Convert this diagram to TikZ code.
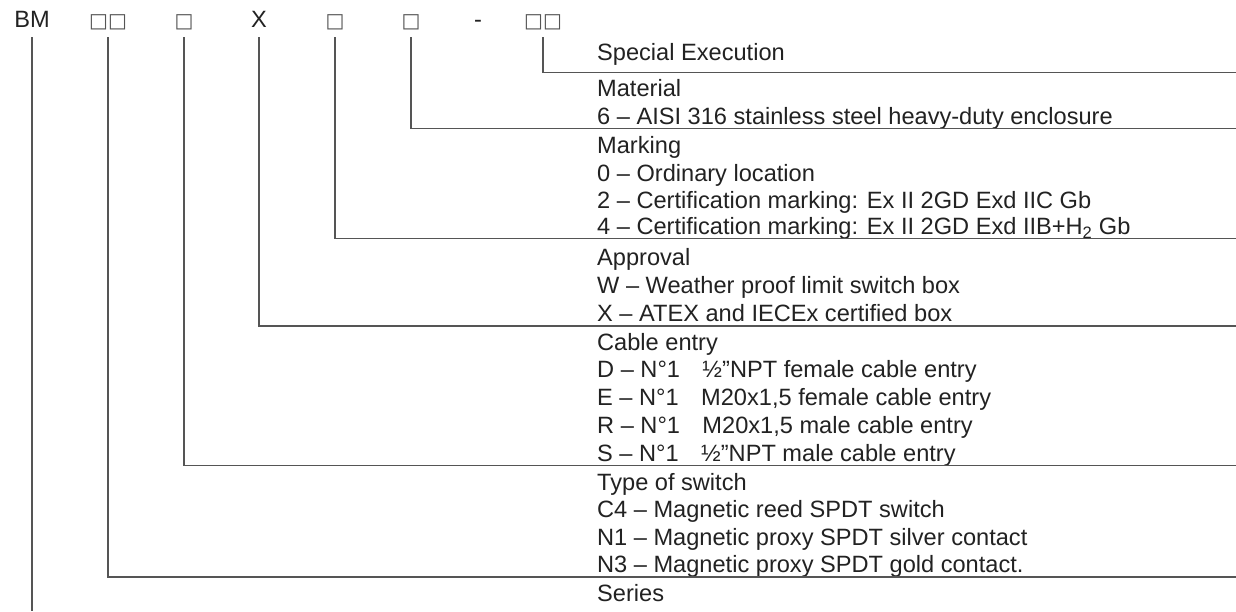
\documentclass[tikz,border=0pt]{standalone}
\usepackage{fontspec}
\setmainfont{Liberation Sans}
\newfontfamily\symfont{DejaVu Sans}
\definecolor{ink}{HTML}{222222}
\definecolor{rulec}{HTML}{555555}
\begin{document}
\begin{tikzpicture}[x=1pt,y=-1pt,
  lbl/.style={anchor=base west,inner sep=0pt,text=ink,font=\fontsize{23.6}{27.7}\selectfont},
  hdr/.style={anchor=base,inner sep=0pt,text=ink,font=\fontsize{23.6}{27.7}\selectfont},
  sq/.style={anchor=base,inner sep=0pt,text=rulec,font=\symfont\fontsize{20}{24}\selectfont},
  ln/.style={draw=rulec,line width=1.2pt}]
\useasboundingbox[fill=white] (0,0) rectangle (1236,611);

% header code
\node[hdr] (h0) at (32,27.3) {BM};
\node[sq]  (h1) at (108,27.3) {□□};
\node[sq]  (h2) at (184,27.3) {□};
\node[hdr] (h3) at (259,27.3) {X};
\node[sq]  (h4) at (335,27.3) {□};
\node[sq]  (h5) at (411,27.3) {□};
\node[hdr] (h6) at (478,27.3) {-};
\node[sq]  (h7) at (543,27.3) {□□};

% right ends of the rules
\coordinate (e7) at (1236,72.7);
\coordinate (e5) at (1236,128.5);
\coordinate (e4) at (1236,238.5);
\coordinate (e3) at (1236,326);
\coordinate (e2) at (1236,465.5);
\coordinate (e1) at (1236,577);
\coordinate (e0) at (32,611);

% labels
\node[lbl] (t01) at (597,60)    {Special Execution};
\node[lbl] (t02) at (597,96)    {Material};
\node[lbl] (t03) at (597,124)   {6 – AISI 316 stainless steel heavy-duty enclosure};
\node[lbl] (t04) at (597,153.5) {Marking};
\node[lbl] (t05) at (597,181)   {0 – Ordinary location};
\node[lbl] (t06) at (597,208.5) {2 – Certification marking: Ex II 2GD Exd IIC Gb};
\node[lbl] (t07) at (597,234.5) {4 – Certification marking: Ex II 2GD Exd IIB+H\textsubscript{2} Gb};
\node[lbl] (t08) at (597,265)   {Approval};
\node[lbl] (t09) at (597,293)   {W – Weather proof limit switch box};
\node[lbl] (t10) at (597,321)   {X – ATEX and IECEx certified box};
\node[lbl] (t11) at (597,350)   {Cable entry};
\node[lbl] (t12) at (597,377.5) {D – N°1\hspace*{0.95em}½”NPT female cable entry};
\node[lbl] (t13) at (597,405.5) {E – N°1\hspace*{0.95em}M20x1,5 female cable entry};
\node[lbl] (t14) at (597,433.5) {R – N°1\hspace*{0.95em}M20x1,5 male cable entry};
\node[lbl] (t15) at (597,461)   {S – N°1\hspace*{0.95em}½”NPT male cable entry};
\node[lbl] (t16) at (597,490)   {Type of switch};
\node[lbl] (t17) at (597,517.5) {C4 – Magnetic reed SPDT switch};
\node[lbl] (t18) at (597,545)   {N1 – Magnetic proxy SPDT silver contact};
\node[lbl] (t19) at (597,572.5) {N3 – Magnetic proxy SPDT gold contact.};
\node[lbl] (t20) at (597,601)   {Series};

% connectors
\draw[ln] ([yshift=-10pt]h0.base) -- (e0);
\draw[ln] ([yshift=-10pt]h1.base) |- (e1);
\draw[ln] ([yshift=-10pt]h2.base) |- (e2);
\draw[ln] ([yshift=-10pt]h3.base) |- (e3);
\draw[ln] ([yshift=-10pt]h4.base) |- (e4);
\draw[ln] ([yshift=-10pt]h5.base) |- (e5);
\draw[ln] ([yshift=-10pt]h7.base) |- (e7);
\end{tikzpicture}
\end{document}
